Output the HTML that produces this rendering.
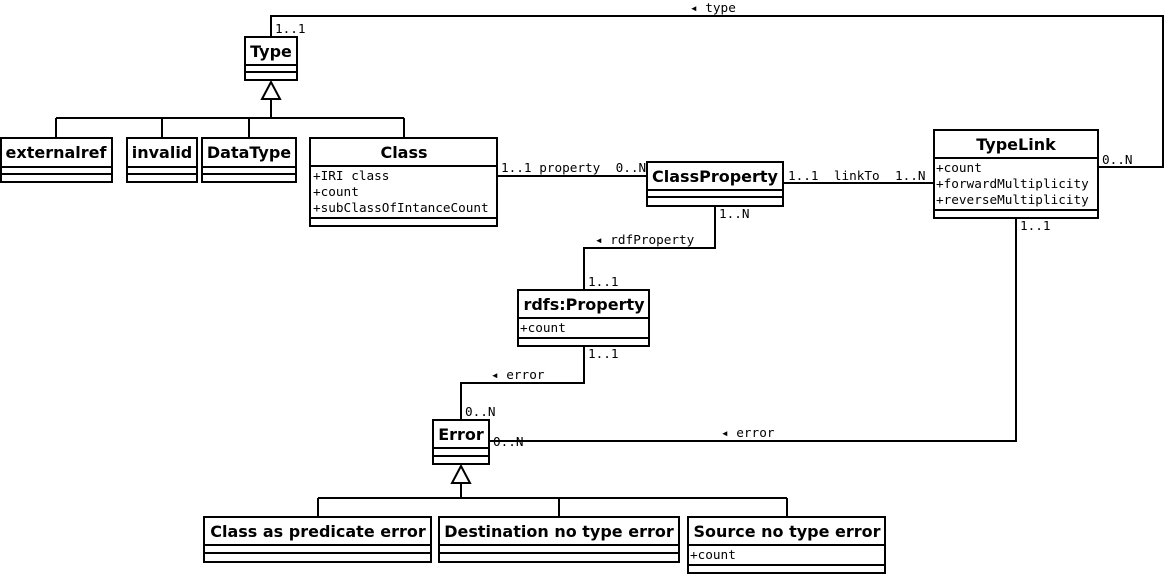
<!DOCTYPE html>
<html><head><meta charset="utf-8"><style>
html,body{margin:0;padding:0;background:#fff;}
svg{display:block;}
.t{font-family:"DejaVu Sans","Liberation Sans",sans-serif;font-weight:bold;font-size:16px;}
.a{font-family:"DejaVu Sans Mono","Liberation Mono",monospace;font-size:12.7px;white-space:pre;}
rect,line,polyline{stroke:#000;stroke-width:2;fill:none;}
</style></head><body>
<svg width="1165" height="575" viewBox="0 0 1165 575" xmlns="http://www.w3.org/2000/svg" xml:space="preserve">
<rect x="0" y="0" width="1165" height="575" style="fill:#fff;stroke:none"/>
<polyline points="271,37 271,16 1163,16 1163,167 1098,167"/>
<polyline points="271,99 271,118"/>
<line x1="56" y1="118" x2="404" y2="118"/>
<line x1="56" y1="118" x2="56" y2="138"/>
<line x1="162" y1="118" x2="162" y2="138"/>
<line x1="249" y1="118" x2="249" y2="138"/>
<line x1="404" y1="118" x2="404" y2="138"/>
<polygon points="271,82 262,99 280,99" style="fill:#fff;stroke:#000;stroke-width:2"/>
<line x1="497" y1="176" x2="647" y2="176"/>
<line x1="783" y1="183" x2="934" y2="183"/>
<polyline points="715,206 715,248 584,248 584,290"/>
<polyline points="584,346 584,383 461,383 461,420"/>
<polyline points="1016,218 1016,441 489,441"/>
<polyline points="461,483 461,498"/>
<line x1="318" y1="498" x2="787" y2="498"/>
<line x1="318" y1="498" x2="318" y2="517"/>
<line x1="559" y1="498" x2="559" y2="517"/>
<line x1="787" y1="498" x2="787" y2="517"/>
<polygon points="461,466 452,483 470,483" style="fill:#fff;stroke:#000;stroke-width:2"/>
<g>
<rect x="245" y="37" width="52" height="43" style="fill:#fff"/><line x1="245" y1="65" x2="297" y2="65"/><line x1="245" y1="72" x2="297" y2="72"/>
<text class="t" x="271" y="57" text-anchor="middle">Type</text>

<rect x="1" y="138" width="111" height="44" style="fill:#fff"/><line x1="1" y1="167" x2="112" y2="167"/><line x1="1" y1="174" x2="112" y2="174"/>
<text class="t" x="56" y="158" text-anchor="middle">externalref</text>

<rect x="127" y="138" width="70" height="44" style="fill:#fff"/><line x1="127" y1="167" x2="197" y2="167"/><line x1="127" y1="174" x2="197" y2="174"/>
<text class="t" x="162" y="158" text-anchor="middle">invalid</text>

<rect x="202" y="138" width="94" height="44" style="fill:#fff"/><line x1="202" y1="167" x2="296" y2="167"/><line x1="202" y1="174" x2="296" y2="174"/>
<text class="t" x="249" y="158" text-anchor="middle">DataType</text>

<rect x="310" y="138" width="187" height="88" style="fill:#fff"/><line x1="310" y1="166" x2="497" y2="166"/><line x1="310" y1="218" x2="497" y2="218"/>
<text class="t" x="404" y="158" text-anchor="middle">Class</text>
<text class="a" x="313" y="180">+IRI class</text>
<text class="a" x="313" y="196">+count</text>
<text class="a" x="313" y="212">+subClassOfIntanceCount</text>

<rect x="647" y="162" width="136" height="44" style="fill:#fff"/><line x1="647" y1="190" x2="783" y2="190"/><line x1="647" y1="197" x2="783" y2="197"/>
<text class="t" x="715" y="182" text-anchor="middle">ClassProperty</text>

<rect x="934" y="130" width="164" height="88" style="fill:#fff"/><line x1="934" y1="158" x2="1098" y2="158"/><line x1="934" y1="210" x2="1098" y2="210"/>
<text class="t" x="1016" y="150" text-anchor="middle">TypeLink</text>
<text class="a" x="936" y="172">+count</text>
<text class="a" x="936" y="188">+forwardMultiplicity</text>
<text class="a" x="936" y="204">+reverseMultiplicity</text>

<rect x="518" y="290" width="131" height="56" style="fill:#fff"/><line x1="518" y1="318" x2="649" y2="318"/><line x1="518" y1="338" x2="649" y2="338"/>
<text class="t" x="584" y="310" text-anchor="middle">rdfs:Property</text>
<text class="a" x="520" y="332">+count</text>

<rect x="433" y="420" width="56" height="44" style="fill:#fff"/><line x1="433" y1="448" x2="489" y2="448"/><line x1="433" y1="456" x2="489" y2="456"/>
<text class="t" x="461" y="440" text-anchor="middle">Error</text>

<rect x="204" y="517" width="227" height="45" style="fill:#fff"/><line x1="204" y1="545" x2="431" y2="545"/><line x1="204" y1="553" x2="431" y2="553"/>
<text class="t" x="318" y="537" text-anchor="middle">Class as predicate error</text>

<rect x="439" y="517" width="240" height="45" style="fill:#fff"/><line x1="439" y1="545" x2="679" y2="545"/><line x1="439" y1="553" x2="679" y2="553"/>
<text class="t" x="559" y="537" text-anchor="middle">Destination no type error</text>

<rect x="688" y="517" width="197" height="56" style="fill:#fff"/><line x1="688" y1="545" x2="885" y2="545"/><line x1="688" y1="565" x2="885" y2="565"/>
<text class="t" x="787" y="537" text-anchor="middle">Source no type error</text>
<text class="a" x="690" y="559">+count</text>
</g>
<text class="a" x="275" y="33">1..1</text>
<text class="a" x="690" y="12">◂ type</text>
<text class="a" x="1102" y="164">0..N</text>
<text class="a" x="501" y="172">1..1 property  0..N</text>
<text class="a" x="788" y="180">1..1  linkTo  1..N</text>
<text class="a" x="719" y="218">1..N</text>
<text class="a" x="595" y="244">◂ rdfProperty</text>
<text class="a" x="588" y="286">1..1</text>
<text class="a" x="1020" y="230">1..1</text>
<text class="a" x="588" y="358">1..1</text>
<text class="a" x="491" y="379">◂ error</text>
<text class="a" x="465" y="416">0..N</text>
<text class="a" x="493" y="446">0..N</text>
<text class="a" x="721" y="437">◂ error</text>
</svg>
</body></html>
